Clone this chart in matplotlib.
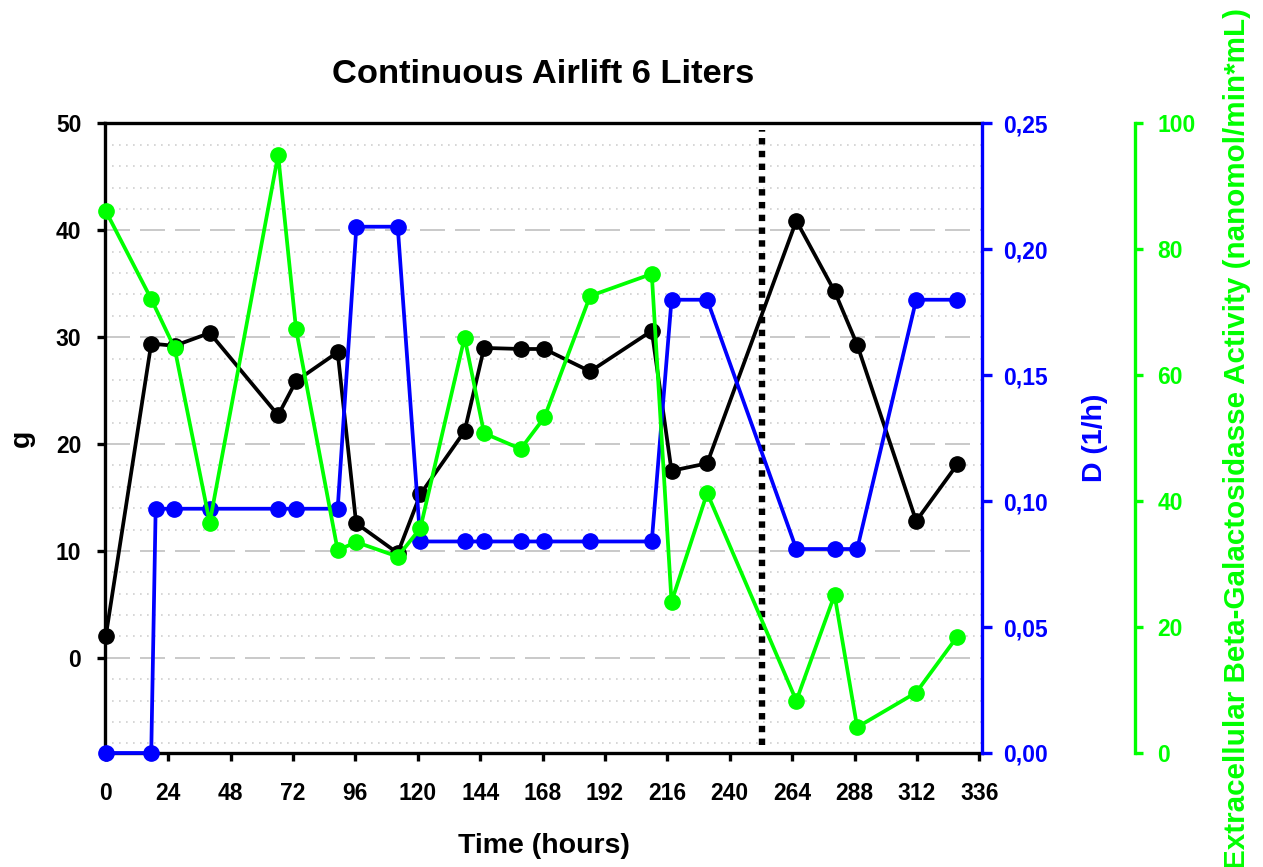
import matplotlib
matplotlib.use("Agg")
import matplotlib.pyplot as plt
from matplotlib.ticker import MultipleLocator, FuncFormatter

plt.rcParams['font.family'] = ['Liberation Sans', 'DejaVu Sans']
plt.rcParams['font.weight'] = 'bold'

# biomass (g) and enzyme activity share the sampling times
time_h = [0, 17.5, 26.5, 40, 66.3, 73.2, 89.2, 96.3, 112.3, 121, 138, 145.5,
          159.6, 168.7, 186.3, 210, 217.6, 231.3, 265.6, 280.3, 289, 311.7, 327.5]
biomass_g = [2.0, 29.4, 29.2, 30.4, 22.7, 25.9, 28.6, 12.6, 9.8, 15.3, 21.2, 29.0,
             28.9, 28.9, 26.8, 30.6, 17.5, 18.2, 40.9, 34.3, 29.3, 12.8, 18.1]
activity = [86.1, 72.1, 64.3, 36.6, 95.0, 67.3, 32.2, 33.5, 31.2, 35.7, 66.0, 50.8,
            48.3, 53.3, 72.6, 76.1, 24.0, 41.3, 8.3, 25.1, 4.1, 9.6, 18.5]

# dilution rate
time_d = [0, 17.5, 19.2, 26.3, 40, 66.3, 73.2, 89.2, 96.4, 112.3, 121, 138, 145.5,
          159.6, 168.7, 186.3, 210, 217.6, 231.3, 265.6, 280.3, 289, 311.7, 327.5]
dilution = [0, 0, 0.097, 0.097, 0.097, 0.097, 0.097, 0.097, 0.209, 0.209,
            0.084, 0.084, 0.084, 0.084, 0.084, 0.084, 0.084, 0.18, 0.18,
            0.081, 0.081, 0.081, 0.18, 0.18]

switch_time = 252.3
x_ticks = list(range(0, 337, 24))

fig = plt.figure(figsize=(12.63, 8.67), dpi=100)
ax = fig.add_axes([0.0831, 0.1315, 0.6944, 0.7261])
ax2 = ax.twinx()
ax3 = ax.twinx()

lw = 2.7
ms = 11

ax.plot(time_h, biomass_g, '-o', color='black', lw=lw, ms=ms, clip_on=False, zorder=3)
ax2.plot(time_d, dilution, '-o', color='#0000ff', lw=lw, ms=ms, clip_on=False, zorder=3)
ax3.plot(time_h, activity, '-o', color='#00ff00', lw=lw, ms=ms, clip_on=False, zorder=3)

ax.axvline(switch_time, ymin=0.013, ymax=0.99, color='black', lw=4.6,
           linestyle=(0, (1, 1.0)), zorder=2)

ax.set_xlim(-0.3, 337)
ax.set_ylim(-8.9, 50)
ax2.set_ylim(0, 0.25)
ax3.set_ylim(0, 100)

ax.set_xticks(x_ticks)
ax.set_yticks(range(0, 51, 10))
ax.yaxis.set_minor_locator(MultipleLocator(2))
ax2.set_yticks([0, 0.05, 0.10, 0.15, 0.20, 0.25])
ax2.yaxis.set_major_formatter(FuncFormatter(lambda v, p: f"{v:.2f}".replace('.', ',')))
ax3.set_yticks(range(0, 101, 20))

ax.grid(True, which='major', axis='y', color='#c0c0c0', lw=1.2, linestyle=(0, (15, 6)))
ax.grid(True, which='minor', axis='y', color='#cfcfcf', lw=1.2, linestyle=(0, (1, 3.2)))
ax.set_axisbelow(True)

for s in ['left', 'bottom', 'top']:
    ax.spines[s].set_linewidth(2.4)
ax.spines['right'].set_visible(False)
for a in (ax2, ax3):
    for s in ['left', 'bottom', 'top']:
        a.spines[s].set_visible(False)
ax2.spines['right'].set_color('#0000ff')
ax2.spines['right'].set_linewidth(2.4)
ax3.spines['right'].set_position(('axes', 1.1745))
ax3.spines['right'].set_color('#00ff00')
ax3.spines['right'].set_linewidth(2.4)

ax.tick_params(axis='x', direction='out', length=6, width=2.4, pad=15, labelsize=16.5)
ax.tick_params(axis='y', which='major', direction='out', length=6, width=2.4, pad=11, labelsize=16.5)
ax.tick_params(axis='y', which='minor', length=0)
ax2.tick_params(axis='y', direction='out', length=7, width=2.4, pad=8, labelsize=16.5,
                color='#0000ff', labelcolor='#0000ff')
ax3.tick_params(axis='y', direction='out', length=6, width=2.4, pad=10, labelsize=16.5,
                color='#00ff00', labelcolor='#00ff00')

ax.set_title('Continuous Airlift 6 Liters', fontsize=24.8, fontweight='bold', pad=29)
ax.set_xlabel('Time (hours)', fontsize=20.5, fontweight='bold', labelpad=20)
ax.set_ylabel('g', fontsize=20.5, fontweight='bold')
ax.yaxis.set_label_coords(-0.08, 0.5)
ax2.set_ylabel('D (1/h)', fontsize=20.5, fontweight='bold', color='#0000ff')
ax2.yaxis.set_label_coords(1.114, 0.5)
ax3.set_ylabel('Extracellular Beta-Galactosidasse Activity (nanomol/min*mL)',
               fontsize=21.3, fontweight='bold', color='#00ff00')
ax3.yaxis.set_label_coords(1.275, 0.5)

fig.savefig('out.png', dpi=100)
